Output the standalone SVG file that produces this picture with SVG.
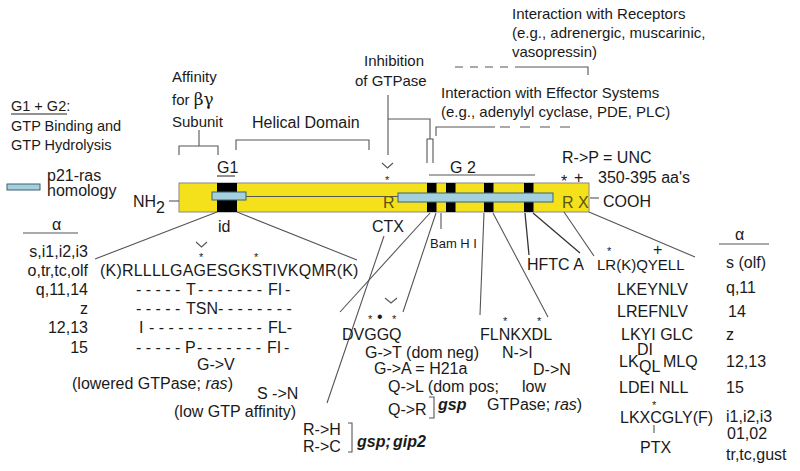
<svg xmlns="http://www.w3.org/2000/svg" width="800" height="471" viewBox="0 0 800 471">
<style>
text{font-family:"Liberation Sans",Arial,sans-serif;fill:#1a1a1a;font-size:16px}
.t15{font-size:15px}
.t14{font-size:14.5px}
.t13{font-size:13px}
.sm{font-size:11px}
.bi{font-weight:bold;font-style:italic}
.it{font-style:italic}
.ln{stroke:#555;stroke-width:1.1;fill:none}
.dk{stroke:#333;stroke-width:1.3;fill:none}
.blk{fill:#000}
.blue{fill:#a3d0de;stroke:#40606e;stroke-width:1}
.rr{fill:#5b5410}
</style>
<rect width="800" height="471" fill="#fff"/>

<g id="legend">
<text x="11" y="111" class="t14">G1 + G2:</text>
<line x1="11" y1="114" x2="67" y2="114" stroke="#222" stroke-width="1"/>
<text x="11" y="131" class="t14">GTP Binding and</text>
<text x="11" y="150" class="t14">GTP Hydrolysis</text>
<rect x="7" y="184" width="33" height="6" class="blue"/>
<text x="47" y="181">p21-ras</text>
<text x="47" y="196">homology</text>
</g>

<g id="top-labels">
<text x="172" y="82" class="t15">Affinity</text>
<text x="172" y="105" class="t15">for <tspan font-family="'DejaVu Serif',serif" font-size="17">βγ</tspan></text>
<text x="172" y="127" class="t15">Subunit</text>
<text x="252" y="128">Helical Domain</text>
<text x="364" y="66" class="t15">Inhibition</text>
<text x="355" y="86" class="t15">of GTPase</text>
<text x="512" y="19" class="t15">Interaction with Receptors</text>
<text x="512" y="38" class="t15">(e.g., adrenergic, muscarinic,</text>
<text x="512" y="57" class="t15">vasopressin)</text>
<text x="441" y="98" class="t15">Interaction with Effector Systems</text>
<text x="441" y="117" class="t15">(e.g., adenylyl cyclase, PDE, PLC)</text>
</g>

<g id="brackets">
<path class="ln" d="M199,130 V146 M179,155 V146 H218 V155"/>
<path class="ln" d="M236,150 V140 H369 V150"/>
<path class="ln" d="M388,95 V155 M388,119 H430 V139 M427,163 V139 H433 V163"/>
<path class="ln" d="M382,163 L387.5,168 L393,163"/>
<path class="ln" d="M436,136 V127 H495"/>
<path class="ln" stroke-dasharray="10,10" d="M500,127 H572"/>
<path class="ln" stroke-dasharray="8,7" d="M455,67 H520"/>
<path class="ln" d="M520,67 H588 V75"/>
</g>

<g id="protein">
<text x="217" y="173">G1</text>
<line x1="217" y1="176" x2="235" y2="176" stroke="#222" stroke-width="1"/>
<text x="450" y="173">G 2</text>
<line x1="429" y1="175" x2="535" y2="175" class="ln"/>
<rect x="179" y="183" width="410" height="29" fill="#f4e11c" stroke="#888" stroke-width="1"/>
<rect x="217" y="183" width="20" height="29" class="blk"/>
<rect x="427" y="183" width="9.5" height="29" class="blk"/>
<rect x="446" y="183" width="9.5" height="29" class="blk"/>
<rect x="484" y="183" width="9.5" height="29" class="blk"/>
<rect x="524" y="183" width="9.5" height="29" class="blk"/>
<line x1="246" y1="196.5" x2="398" y2="196.5" stroke="#555" stroke-width="1"/>
<rect x="212" y="192" width="34" height="8" class="blue"/>
<rect x="398" y="193" width="155" height="9" class="blue"/>
<text x="383" y="208" class="rr">R</text>
<text x="562" y="208" class="rr">R X</text>
<text x="133" y="207">NH<tspan font-size="16" dy="6">2</tspan></text>
<line x1="169" y1="201" x2="179" y2="201" class="ln"/>
<line x1="590" y1="198" x2="599" y2="198" class="ln"/>
<text x="603" y="207">COOH</text>
<text x="562" y="163">R-&gt;P = UNC</text>
<text x="561" y="187" font-size="16">*</text>
<text x="574" y="183">+</text>
<text x="598" y="183">350-395 aa's</text>
<text x="218" y="232">id</text>
<text x="372" y="232" font-size="14">CTX</text>
<text x="385" y="184" class="sm">*</text>
<text x="430" y="248" class="t13">Bam H I</text>
<text x="527" y="270">HFTC A</text>
</g>

<g id="connectors">
<line x1="217" y1="212" x2="95" y2="259" class="ln"/>
<line x1="237" y1="212" x2="357" y2="260" class="ln"/>
<line x1="384" y1="236" x2="327" y2="403" class="ln"/>
<line x1="430" y1="213" x2="340" y2="312" class="ln"/>
<line x1="436" y1="213" x2="403" y2="312" class="ln"/>
<line x1="441" y1="213" x2="441" y2="229" class="ln"/>
<line x1="484" y1="213" x2="480" y2="315" class="ln"/>
<line x1="493" y1="213" x2="548" y2="317" class="ln"/>
<line x1="525" y1="213" x2="529" y2="255" class="dk"/>
<line x1="533" y1="213" x2="580" y2="253" class="dk"/>
<line x1="564" y1="212" x2="594" y2="256" class="ln"/>
<line x1="589" y1="212" x2="695" y2="257" class="ln"/>
<line x1="654" y1="425" x2="654" y2="433" class="ln"/>
</g>

<g id="left-seq">
<text x="52" y="230" font-family="'DejaVu Serif',serif" font-size="16">α</text>
<line x1="23" y1="233" x2="78" y2="233" class="ln"/>
<g text-anchor="end">
<text x="88" y="257">s,i1,i2,i3</text>
<text x="88" y="276">o,tr,tc,olf</text>
<text x="88" y="295">q,11,14</text>
<text x="88" y="314">z</text>
<text x="88" y="333">12,13</text>
<text x="88" y="353">15</text>
</g>
<path class="ln" d="M196,242 L201.5,247 L207,242"/>
<text x="199" y="261" class="sm">*</text>
<text x="254" y="261" class="sm">*</text>
<text x="100" y="276" letter-spacing="0.2">(K)RLLLLGAGESGKSTIVKQMR(K)</text>
<text y="295"><tspan x="136">- - - - -</tspan><tspan x="186">T</tspan><tspan x="198">- - - - - - -</tspan><tspan x="268">FI</tspan><tspan x="285">-</tspan></text>
<text y="314"><tspan x="136">- - - - -</tspan><tspan x="186">TSN</tspan><tspan x="218">- - - - - - - -</tspan></text>
<text y="333"><tspan x="139">I</tspan><tspan x="149">- - - - - - - - - - - -</tspan><tspan x="268">FL-</tspan></text>
<text y="353"><tspan x="136">- - - - -</tspan><tspan x="185">P</tspan><tspan x="197">- - - - - - -</tspan><tspan x="267">FI</tspan><tspan x="284">-</tspan></text>
<text x="197" y="370">G-&gt;V</text>
<text x="72" y="389">(lowered GTPase; <tspan class="it">ras</tspan>)</text>
<text x="257" y="399">S -&gt;N</text>
<text x="174" y="417">(low GTP affinity)</text>
<text x="303" y="435">R-&gt;H</text>
<text x="303" y="452">R-&gt;C</text>
<path class="ln" d="M348,423 H352 V452 H348"/>
<text y="447" class="bi"><tspan x="357">gsp;</tspan><tspan x="393">gip2</tspan></text>
</g>

<g id="mid-seq">
<path class="ln" d="M385,298 L391,303 L397,298"/>
<text x="368" y="323" class="sm">*</text>
<text x="377" y="322" font-size="14">•</text>
<text x="392" y="323" class="sm">*</text>
<text x="342" y="340">DVGGQ</text>
<text x="365" y="358">G-&gt;T (dom neg)</text>
<text x="374" y="374">G-&gt;A = H21a</text>
<text y="392"><tspan x="388">Q-&gt;L (dom pos;</tspan><tspan x="522">low</tspan></text>
<text x="388" y="415">Q-&gt;R</text>
<path class="ln" d="M429,397 H434 V418 H429"/>
<text x="438" y="410" class="bi">gsp</text>
<text x="503" y="325" class="sm">*</text>
<text x="537" y="325" class="sm">*</text>
<text x="480" y="340">FLNKXDL</text>
<text x="502" y="358">N-&gt;I</text>
<text x="533" y="375">D-&gt;N</text>
<text x="487" y="410">GTPase; <tspan class="it">ras</tspan>)</text>
</g>

<g id="right-seq">
<text x="607" y="255" class="sm">*</text>
<text x="653" y="255" font-size="13">+</text>
<text x="597" y="270" class="t15">LR(K)QYELL</text>
<text x="617" y="295">LKEYNLV</text>
<text x="617" y="317">LREFNLV</text>
<text x="621" y="340">LKYI GLC</text>
<text x="619" y="367">LK</text>
<text x="637" y="355" font-size="12.5">DI</text>
<text x="639" y="372" font-size="13">QL</text>
<text x="663" y="367">MLQ</text>
<text x="619" y="393">LDEI NLL</text>
<text x="652" y="409" class="sm">*</text>
<text x="620" y="423">LKXCGLY(F)</text>
<text x="640" y="453">PTX</text>
<text x="735" y="240" font-family="'DejaVu Serif',serif" font-size="16">α</text>
<line x1="719" y1="244" x2="769" y2="244" class="ln"/>
<text x="726" y="268">s (olf)</text>
<text x="726" y="293">q,11</text>
<text x="728" y="317">14</text>
<text x="726" y="340">z</text>
<text x="726" y="367">12,13</text>
<text x="726" y="393">15</text>
<text x="726" y="422">i1,i2,i3</text>
<text x="727" y="439">01,02</text>
<text x="726" y="460">tr,tc,gust</text>
</g>
</svg>
